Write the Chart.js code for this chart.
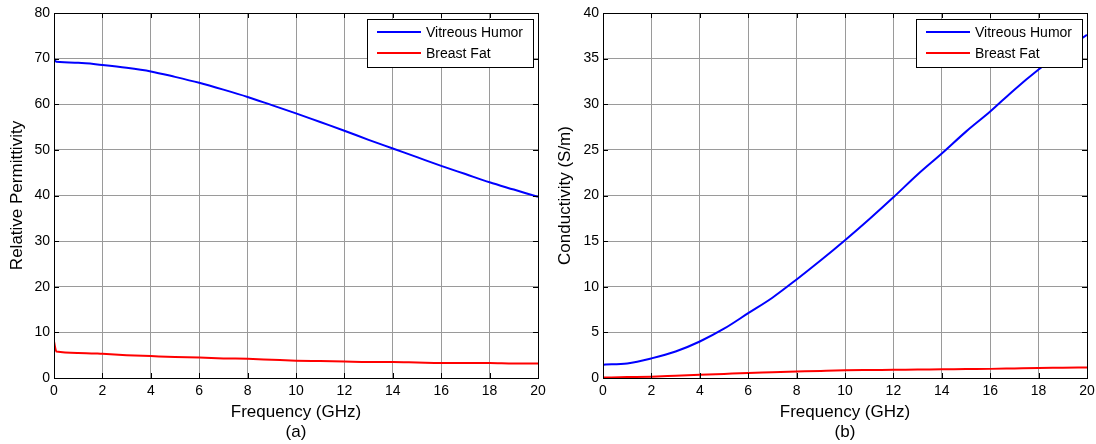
<!DOCTYPE html>
<html>
<head>
<meta charset="utf-8">
<script src="https://cdn.jsdelivr.net/npm/chart.js@4/dist/chart.umd.min.js"></script>
<style>
  html, body { margin:0; padding:0; background:#fff; }
  #wrap { position:relative; width:1096px; height:444px; }
  canvas { position:absolute; top:0; }
  #permChart { left:0; }
  #condChart { left:548px; }
</style>
</head>
<body>
<div id="wrap">
  <canvas id="permChart" width="548" height="444"></canvas>
  <canvas id="condChart" width="548" height="444"></canvas>
</div>
<script>
// —————— DATA ——————
const freqGHz      = [0, 0.1, 1, 2, 3, 4, 5, 6, 7, 8, 9, 10, 11, 12, 13, 14, 15, 16, 17, 18, 19, 20];
const vitreousPerm = [70.0, 69.3, 69.1, 68.6, 68.0, 67.2, 66.0, 64.7, 63.2, 61.6, 59.8, 58.0, 56.1, 54.2, 52.2, 50.3, 48.4, 46.5, 44.7, 42.9, 41.3, 39.7];
const fatPerm      = [8.0, 5.8, 5.5, 5.3, 5.0, 4.8, 4.6, 4.5, 4.3, 4.2, 4.0, 3.8, 3.7, 3.6, 3.5, 3.5, 3.4, 3.3, 3.3, 3.3, 3.2, 3.2];
const vitreousCond = [1.46, 1.47, 1.6, 2.15, 2.9, 4.0, 5.4, 7.1, 8.8, 10.8, 12.9, 15.1, 17.4, 19.8, 22.3, 24.6, 27.0, 29.2, 31.6, 33.8, 35.8, 37.6];
const fatCond      = [0.05, 0.05, 0.1, 0.15, 0.25, 0.35, 0.45, 0.55, 0.62, 0.7, 0.78, 0.85, 0.88, 0.9, 0.93, 0.95, 0.98, 1.0, 1.05, 1.1, 1.12, 1.15];

const seriesNames  = ['Vitreous Humor', 'Breast Fat'];
const seriesColors = ['#0000ff', '#ff0000'];

const FONT = "'Liberation Sans', Arial, Helvetica, sans-serif";

function toPoints(ys) {
  return freqGHz.map((f, i) => ({ x: f, y: ys[i] }));
}

// —————— PLUGINS ——————
// box around the axes with inward ticks on all four sides
const axesBox = {
  id: 'axesBox',
  afterDatasetsDraw(chart) {
    const { ctx, chartArea: a, scales } = chart;
    const len = 5;
    ctx.save();
    ctx.strokeStyle = '#000';
    ctx.lineWidth = 1;
    ctx.beginPath();
    scales.x.ticks.forEach(t => {
      const px = Math.round(scales.x.getPixelForValue(t.value)) + 0.5;
      ctx.moveTo(px, a.bottom); ctx.lineTo(px, a.bottom - len);
      ctx.moveTo(px, a.top);    ctx.lineTo(px, a.top + len);
    });
    scales.y.ticks.forEach(t => {
      const py = Math.round(scales.y.getPixelForValue(t.value)) + 0.5;
      ctx.moveTo(a.left, py);  ctx.lineTo(a.left + len, py);
      ctx.moveTo(a.right, py); ctx.lineTo(a.right - len, py);
    });
    ctx.stroke();
    ctx.strokeRect(Math.round(a.left) + 0.5, Math.round(a.top) + 0.5,
                   Math.round(a.right - a.left), Math.round(a.bottom - a.top));
    ctx.restore();
  }
};

// legend box in the upper right corner of the plot
const boxLegend = {
  id: 'boxLegend',
  afterDraw(chart) {
    const { ctx, chartArea: a } = chart;
    const w = 166, h = 48;
    const x = Math.round(a.right) - 5 - w, y = Math.round(a.top) + 6;
    ctx.save();
    ctx.fillStyle = '#fff';
    ctx.fillRect(x, y, w, h);
    ctx.strokeStyle = '#000';
    ctx.lineWidth = 1;
    ctx.strokeRect(x + 0.5, y + 0.5, w, h);
    ctx.font = '14px ' + FONT;
    ctx.textBaseline = 'middle';
    ctx.fillStyle = '#000';
    chart.data.datasets.forEach((ds, i) => {
      const ly = y + 13 + i * 21;
      ctx.strokeStyle = ds.borderColor;
      ctx.lineWidth = 2;
      ctx.beginPath();
      ctx.moveTo(x + 10, ly); ctx.lineTo(x + 54, ly);
      ctx.stroke();
      ctx.fillText(ds.label, x + 59, ly + 1);
    });
    ctx.restore();
  }
};

// fixed axis sizes so both plot boxes line up
function fixX(s) {
  s.height = 66;
  s.paddingLeft = 0; s.paddingRight = 0;
}
function fixY(width) {
  return s => {
    s.width = width;
    s.paddingTop = 0; s.paddingBottom = 0;
  };
}

// —————— CHARTS ——————
function makeChart(id, series, yMax, yStep, yTitle, tag, yWidth) {
  return new Chart(document.getElementById(id), {
    type: 'line',
    data: {
      datasets: series.map((ys, i) => ({
        label: seriesNames[i],
        data: toPoints(ys),
        borderColor: seriesColors[i],
        borderWidth: 2,
        pointRadius: 0,
        cubicInterpolationMode: 'monotone',
        fill: false
      }))
    },
    options: {
      responsive: false,
      animation: false,
      devicePixelRatio: 1,
      layout: { padding: { left: 0, top: 13, right: 548 - yWidth - 484, bottom: 0 } },
      plugins: { legend: { display: false }, tooltip: { enabled: false } },
      scales: {
        x: {
          type: 'linear', min: 0, max: 20,
          afterFit: fixX,
          ticks: { stepSize: 2, padding: 5, color: '#000', font: { family: FONT, size: 14 } },
          grid: { color: '#9a9a9a', drawTicks: false },
          border: { display: false },
          title: {
            display: true, text: ['Frequency (GHz)', tag], color: '#000',
            font: { family: FONT, size: 17, lineHeight: 1.2 },
            padding: { top: 0, bottom: 1 }
          }
        },
        y: {
          type: 'linear', min: 0, max: yMax,
          afterFit: fixY(yWidth),
          ticks: { stepSize: yStep, padding: 4, color: '#000', font: { family: FONT, size: 14 } },
          grid: { color: '#9a9a9a', drawTicks: false },
          border: { display: false },
          title: {
            display: true, text: yTitle, color: '#000',
            font: { family: FONT, size: 17, lineHeight: 1.2 },
            padding: { top: 7, bottom: 0 }
          }
        }
      }
    },
    plugins: [axesBox, boxLegend]
  });
}

window.addEventListener('DOMContentLoaded', function () {
  makeChart('permChart', [vitreousPerm, fatPerm], 80, 10, 'Relative Permittivity', '(a)', 54);
  makeChart('condChart', [vitreousCond, fatCond], 40, 5, 'Conductivity (S/m)', '(b)', 55);
});
</script>
</body>
</html>
